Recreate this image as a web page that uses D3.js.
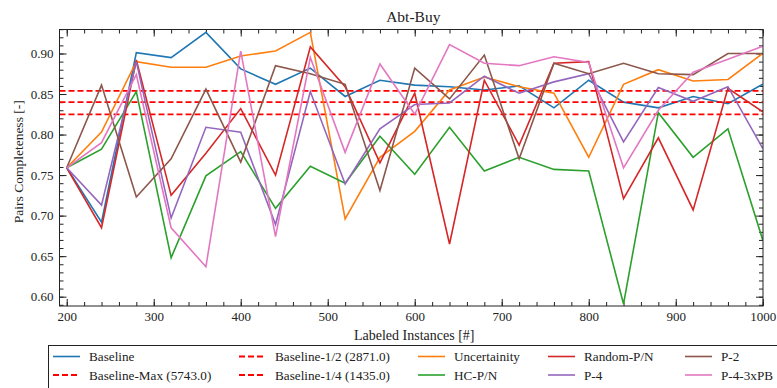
<!DOCTYPE html>
<html>
<head>
<meta charset="utf-8">
<script src="https://cdn.jsdelivr.net/npm/d3@7"></script>
<style>
  html, body { margin: 0; padding: 0; background: #fff; }
  svg { display: block; }
</style>
</head>
<body>
<svg id="chart" width="777" height="388"></svg>
<script>
// Labeled instances on the x axis
const instances = [200, 240, 280, 320, 360, 400, 440, 480, 520, 560, 600, 640, 680, 720, 760, 800, 840, 880, 920, 960, 1000];

// Pairs completeness per strategy
const baseline     = [0.759, 0.692, 0.901, 0.895, 0.926, 0.881, 0.862, 0.882, 0.847, 0.867, 0.861, 0.859, 0.855, 0.860, 0.833, 0.867, 0.840, 0.833, 0.847, 0.838, 0.862];
const uncertainity = [0.759, 0.803, 0.890, 0.883, 0.883, 0.897, 0.903, 0.926, 0.696, 0.772, 0.804, 0.855, 0.871, 0.859, 0.851, 0.772, 0.862, 0.880, 0.866, 0.868, 0.900];
const hcPN         = [0.759, 0.782, 0.853, 0.648, 0.749, 0.779, 0.709, 0.761, 0.740, 0.798, 0.751, 0.809, 0.755, 0.772, 0.757, 0.755, 0.591, 0.827, 0.772, 0.807, 0.670];
const randomPN     = [0.759, 0.685, 0.892, 0.725, 0.777, 0.832, 0.750, 0.908, 0.859, 0.765, 0.851, 0.665, 0.867, 0.787, 0.888, 0.890, 0.721, 0.796, 0.707, 0.857, 0.828];
const p4           = [0.759, 0.713, 0.890, 0.697, 0.809, 0.803, 0.689, 0.853, 0.739, 0.807, 0.837, 0.839, 0.872, 0.851, 0.865, 0.875, 0.791, 0.858, 0.841, 0.859, 0.783];
const p2           = [0.759, 0.861, 0.723, 0.770, 0.856, 0.766, 0.885, 0.875, 0.862, 0.731, 0.882, 0.844, 0.898, 0.770, 0.888, 0.875, 0.888, 0.875, 0.874, 0.900, 0.900];
const p4x3PB       = [0.759, 0.790, 0.874, 0.685, 0.637, 0.903, 0.674, 0.895, 0.778, 0.887, 0.825, 0.911, 0.888, 0.885, 0.896, 0.889, 0.759, 0.830, 0.877, 0.893, 0.909];

// Horizontal reference levels
const refLabels = ["Baseline-Max (5743.0)", "Baseline-1/2 (2871.0)", "Baseline-1/4 (1435.0)"];
const refValues = [0.854, 0.840, 0.825];

// Axis ticks
const xTicks = [200, 300, 400, 500, 600, 700, 800, 900, 1000];
const yTicks = [0.60, 0.65, 0.70, 0.75, 0.80, 0.85, 0.90];

const series = [
  { name: "Baseline", values: baseline, color: "#1f77b4" },
  { name: "Uncertainity", values: uncertainity, color: "#ff7f0e" },
  { name: "HC-P/N", values: hcPN, color: "#2ca02c" },
  { name: "Random-P/N", values: randomPN, color: "#d62728" },
  { name: "P-4", values: p4, color: "#9467bd" },
  { name: "P-2", values: p2, color: "#8c564b" },
  { name: "P-4-3xPB", values: p4x3PB, color: "#e377c2" }
];

const svg = d3.select("#chart");
const plotLeft = 59.5, plotRight = 763, plotTop = 29.5, plotBottom = 306;
const serif = '"Liberation Serif"';

const x = d3.scaleLinear().domain([191.7, 1000.3]).range([plotLeft, plotRight]);
const y = d3.scaleLinear().domain([0.5885, 0.9296]).range([plotBottom, plotTop]);

svg.append("defs").append("clipPath").attr("id", "plotClip")
  .append("rect").attr("x", plotLeft).attr("y", plotTop)
  .attr("width", plotRight - plotLeft).attr("height", plotBottom - plotTop);

const fontSize = 13;

// Axes with inward ticks on all four sides
function styleAxis(g) {
  g.attr("font-family", serif).attr("font-size", fontSize);
  g.select(".domain").remove();
  g.selectAll(".tick line").attr("stroke", "#222").attr("stroke-width", 1);
  g.selectAll(".tick text").attr("fill", "#222");
}
const xMinor = d3.range(200, 1001, 20);
const yMinor = d3.range(0.59, 0.9301, 0.01).map(v => +v.toFixed(2));

svg.append("g").attr("transform", `translate(0,${plotBottom})`)
  .call(d3.axisBottom(x).tickValues(xMinor).tickSize(-4).tickFormat("")).call(styleAxis);
svg.append("g").attr("transform", `translate(0,${plotBottom})`)
  .call(d3.axisBottom(x).tickValues(xTicks).tickSize(-7).tickPadding(6).tickFormat(d3.format("d"))).call(styleAxis);
svg.append("g").attr("transform", `translate(0,${plotTop})`)
  .call(d3.axisTop(x).tickValues(xMinor).tickSize(-4).tickFormat("")).call(styleAxis);
svg.append("g").attr("transform", `translate(0,${plotTop})`)
  .call(d3.axisTop(x).tickValues(xTicks).tickSize(-7).tickFormat("")).call(styleAxis);

svg.append("g").attr("transform", `translate(${plotLeft},0)`)
  .call(d3.axisLeft(y).tickValues(yMinor).tickSize(-4).tickFormat("")).call(styleAxis);
svg.append("g").attr("transform", `translate(${plotLeft},0)`)
  .call(d3.axisLeft(y).tickValues(yTicks).tickSize(-7).tickPadding(6).tickFormat(d3.format(".2f"))).call(styleAxis);
svg.append("g").attr("transform", `translate(${plotRight},0)`)
  .call(d3.axisRight(y).tickValues(yMinor).tickSize(-4).tickFormat("")).call(styleAxis);
svg.append("g").attr("transform", `translate(${plotRight},0)`)
  .call(d3.axisRight(y).tickValues(yTicks).tickSize(-7).tickFormat("")).call(styleAxis);

const plot = svg.append("g").attr("clip-path", "url(#plotClip)");
const line = d3.line().x((d, i) => x(instances[i])).y(d => y(d));

// Baseline first, then the reference levels, then the other strategies
function drawSeries(s) {
  plot.append("path").datum(s.values)
    .attr("d", line).attr("fill", "none")
    .attr("stroke", s.color).attr("stroke-width", 1.6)
    .attr("stroke-linejoin", "miter").attr("stroke-linecap", "butt");
}
drawSeries(series[0]);
refValues.forEach(v => {
  plot.append("line")
    .attr("x1", plotLeft).attr("x2", plotRight)
    .attr("y1", y(v)).attr("y2", y(v))
    .attr("stroke", "#ff0000").attr("stroke-width", 1.8)
    .attr("stroke-dasharray", "6,3");
});
series.slice(1).forEach(drawSeries);

// Frame
svg.append("rect").attr("x", plotLeft).attr("y", plotTop)
  .attr("width", plotRight - plotLeft).attr("height", plotBottom - plotTop)
  .attr("fill", "none").attr("stroke", "#222").attr("stroke-width", 1);

// Title and axis labels
svg.append("text").attr("x", (plotLeft + plotRight) / 2 + 2).attr("y", 22)
  .attr("text-anchor", "middle").attr("font-family", serif).attr("font-size", 15.5).attr("fill", "#222")
  .text("Abt-Buy");
svg.append("text").attr("x", (plotLeft + plotRight) / 2 + 3).attr("y", 339.5)
  .attr("text-anchor", "middle").attr("font-family", serif).attr("font-size", 14).attr("fill", "#222")
  .text("Labeled Instances [#]");
svg.append("text")
  .attr("transform", `translate(23,${(plotTop + plotBottom) / 2 - 6}) rotate(-90)`)
  .attr("text-anchor", "middle").attr("font-family", serif).attr("font-size", 13.5).attr("fill", "#222")
  .text("Pairs Completeness [-]");

// Legend, filled column by column
const legendEntries = [
  { name: "Baseline", color: "#1f77b4", dashed: false },
  { name: refLabels[0], color: "#ff0000", dashed: true },
  { name: refLabels[1], color: "#ff0000", dashed: true },
  { name: refLabels[2], color: "#ff0000", dashed: true },
  ...series.slice(1).map(s => ({ name: s.name, color: s.color, dashed: false }))
];
const colX = [53, 239, 418, 548, 685];
const rowY = [356.5, 375];
const legend = svg.append("g").attr("font-family", serif).attr("font-size", 13.2);
legend.append("rect").attr("x", 48.5).attr("y", 345.5)
  .attr("width", 740).attr("height", 60)
  .attr("fill", "#fff").attr("stroke", "#222").attr("stroke-width", 1);
legendEntries.forEach((e, i) => {
  const cx = colX[Math.floor(i / 2)], cy = rowY[i % 2];
  legend.append("line").attr("x1", cx).attr("x2", cx + 27)
    .attr("y1", cy).attr("y2", cy)
    .attr("stroke", e.color).attr("stroke-width", e.dashed ? 1.8 : 1.6)
    .attr("stroke-dasharray", e.dashed ? "6,3" : null);
  legend.append("text").attr("x", cx + 36).attr("y", cy).attr("dy", "0.35em")
    .attr("fill", "#222").text(e.name);
});
</script>
</body>
</html>
